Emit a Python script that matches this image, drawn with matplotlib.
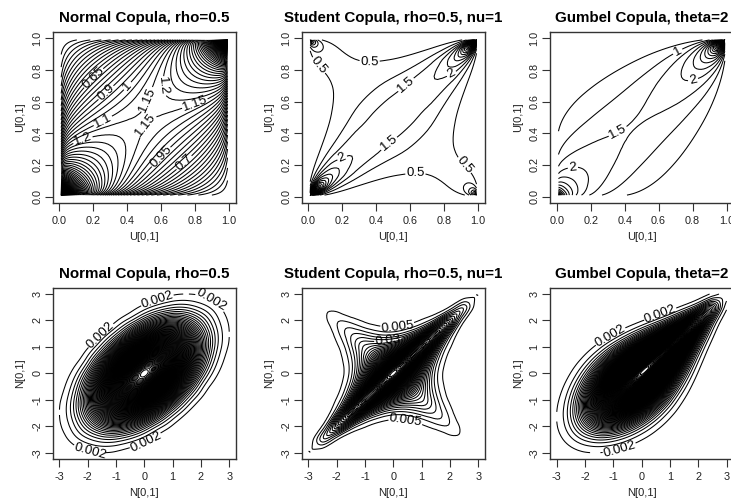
import numpy as np
import matplotlib
matplotlib.use('Agg')
import matplotlib.pyplot as plt
import matplotlib.tri as mtri

plt.rcParams['font.family'] = ['Liberation Sans', 'DejaVu Sans']

# grid positions, heights below are estimates on these grids (upper triangle only, surfaces are symmetric)
u_grid = [0.01, 0.03, 0.07, 0.15, 0.3, 0.5, 0.7, 0.85, 0.93, 0.97, 0.99]
n_grid = [-3, -2.5, -2, -1.5, -1, -0.5, 0, 0.5, 1, 1.5, 2, 2.5, 3]

normal_u = [
    [7.01, 4.80, 3.215, 1.954, 1.009, .469, .199, .0787, .033, .0141, .00516],
    [3.755, 2.835, 1.963, 1.18, .64, .317, .146, .07, .0336, .0141],
    [2.387, 1.86, 1.285, .803, .458, .2424, .131, .07, .033],
    [1.651, 1.324, .965, .642, .395, .2424, .146, .0787],
    [1.265, 1.103, .877, .642, .458, .317, .199],
    [1.155, 1.103, .965, .803, .64, .469],
    [1.265, 1.324, 1.285, 1.18, 1.009],
    [1.651, 1.86, 1.963, 1.954],
    [2.387, 2.835, 3.215],
    [3.755, 4.80],
    [7.01],
]
student_u = [
    [37.5, 6.09, .944, .196, .0585, .037, .0547, .163, .6225, 2.41, 7.23],
    [12.56, 3.546, .69, .1877, .1112, .153, .401, 1.158, 2.433, 2.41],
    [5.5, 1.905, .493, .2615, .3115, .623, 1.098, 1.158, .6225],
    [2.81, 1.225, .579, .52, .642, .623, .401, .163],
    [1.904, 1.246, .772, .52, .3115, .153, .0547],
    [1.814, 1.246, .579, .2615, .1112, .037],
    [1.904, 1.225, .493, .1877, .0585],
    [2.81, 1.905, .69, .196],
    [5.5, 3.546, .944],
    [12.56, 6.09],
    [37.5],
]
gumbel_u = [
    [8.56, 5.77, 3.60, 1.94, .845, .34, .132, .05, .0206, .0083, .0027],
    [4.69, 3.46, 2.16, 1.06, .455, .181, .0695, .0285, .0115, .0037],
    [3.00, 2.24, 1.295, .609, .2526, .098, .0404, .0163, .0053],
    [2.09, 1.535, .853, .382, .152, .0627, .0253, .0082],
    [1.60, 1.235, .664, .281, .118, .0476, .0154],
    [1.515, 1.214, .616, .27, .11, .0356],
    [1.834, 1.524, .783, .332, .108],
    [2.93, 2.61, 1.314, .444],
    [5.6, 5.02, 2.0],
    [12.3, 9.66],
    [35.9],
]
normal_n = [
    [.0005, .0010, .0017, .0020, .0017, .0010, .0005, .0002, .0001, 0, 0, 0, 0],
    [.0029, .0055, .0077, .0077, .0055, .0029, .0010, .0003, .0001, 0, 0, 0],
    [.0128, .0210, .0249, .0210, .0128, .0055, .0017, .0004, .0001, 0, 0],
    [.0410, .0572, .0572, .0410, .0210, .0077, .0020, .0004, .0001, 0],
    [.0944, .1115, .0944, .0572, .0249, .0077, .0017, .0003, .0001],
    [.1556, .1556, .1115, .0572, .0210, .0055, .0010, .0002],
    [.1838, .1556, .0944, .0410, .0128, .0029, .0005],
    [.1556, .1115, .0572, .0210, .0055, .0010],
    [.0944, .0572, .0249, .0077, .0017],
    [.0410, .0210, .0077, .0020],
    [.0128, .0055, .0017],
    [.0029, .0010],
    [.0005],
]
student_n = [
    [.0055, .0014, .0003, .0001, 0, 0, 0, 0, 0, .0001, .0002, .0007, .0011],
    [.0185, .0059, .0013, .0005, .0002, .0002, .0002, .0004, .0010, .0027, .0036, .0007],
    [.0480, .0196, .0058, .0025, .0018, .0022, .0039, .0077, .0093, .0027, .0002],
    [.0957, .0512, .0205, .0130, .0134, .0182, .0191, .0077, .0010, .0001],
    [.1578, .1060, .0593, .0456, .0369, .0182, .0039, .0004, 0],
    [.2343, .1804, .0993, .0456, .0134, .0022, .0002, 0],
    [.2886, .1804, .0593, .0130, .0018, .0002, 0],
    [.2343, .1060, .0205, .0025, .0002, 0],
    [.1578, .0512, .0058, .0005, 0],
    [.0957, .0196, .0013, .0001],
    [.0480, .0059, .0003],
    [.0185, .0014],
    [.0055],
]
gumbel_n = [
    [.00052, .0012, .00187, .00201, .00156, .0009, .00041, .00014, .00004, 0, 0, 0, 0],
    [.00344, .00659, .00843, .00735, .00458, .00213, .00076, .0002, .00004, 0, 0, 0],
    [.01586, .02525, .0262, .0183, .00903, .0033, .00089, .00017, .00002, 0, 0],
    [.0517, .068, .0567, .0309, .01175, .00322, .00063, .00008, .00001, 0],
    [.1191, .1296, .0847, .0351, .0099, .00194, .00026, .00002, 0],
    [.1976, .1763, .0875, .0264, .00528, .0007, .00006, 0],
    [.241, .1748, .0634, .01326, .00178, .00015, .00001],
    [.2244, .1293, .0322, .00448, .00039, .00002],
    [.1648, .0727, .01176, .00104, .00006],
    [.0981, .03147, .00314, .00017],
    [.0469, .0103, .00062],
    [.01763, .00255],
    [.00513],
]

titles = ['Normal Copula, rho=0.5', 'Student Copula, rho=0.5, nu=1', 'Gumbel Copula, theta=2']
u_ticks = [0, 0.2, 0.4, 0.6, 0.8, 1]
u_ticklabels = ['0.0', '0.2', '0.4', '0.6', '0.8', '1.0']
n_ticks = [-3, -2, -1, 0, 1, 2, 3]
n_ticklabels = ['-3', '-2', '-1', '0', '1', '2', '3']

# contour spacing of each panel and the levels that carry a label
top_surfaces = [normal_u, student_u, gumbel_u]
top_steps = [0.05, 0.5, 0.5]
top_label_levels = [[0.65, 0.7, 0.9, 0.95, 1, 1.1, 1.15, 1.2], [0.5, 1.5, 2], [1, 1.5, 2]]
bottom_surfaces = [normal_n, student_n, gumbel_n]
bottom_steps = [0.002, 0.005, 0.002]
bottom_label_levels = [[0.002], [0.005, 0.03], [0.002]]

top_labels = [
    [(.20, .75), (.28, .65), (.40, .70), (.50, .62), (.26, .47), (.14, .35), (.66, .70),
     (.50, .46), (.80, .58), (.60, .25), (.73, .22)],
    [(.36, .87), (.05, .82), (.63, .12), (.92, .20), (.58, .70), (.45, .37), (.20, .24), (.84, .78)],
    [(.72, .90), (.36, .41), (.80, .75), (.10, .15)],
]
bottom_labels = [
    [(.5, 2.6), (-1.8, -2.4), (0.1, -2.7), (2.2, 2.4), (-1.6, 1.5)],
    [(0.1, 2.0), (0.4, -2.0), (-0.2, 1.3)],
    [(0.7, 2.1), (-0.8, -2.8), (-1.0, 1.2)],
]

lefts = [52.7, 301.7, 550]
W, H = 731, 499


def mirror(rows):
    n = len(rows)
    z = np.zeros((n, n))
    for i, row in enumerate(rows):
        z[i, i:] = row
        z[i:, i] = row
    return z


def cell_triangles(n):
    # every grid cell cut along the y=x direction, that is where the ridges run
    out = []
    for r in range(n - 1):
        for c in range(n - 1):
            a = r * n + c
            out.append([a, a + 1, a + n + 1])
            out.append([a, a + n + 1, a + n])
    return out


def draw(ax, grid, rows, step, label_levels, label_pos, logit=False):
    z = mirror(rows)
    g = np.array(grid, dtype=float)
    if logit:
        g = np.log(g / (1 - g))  # near even spacing for the corner-packed u grid
    X, Y = np.meshgrid(g, g)
    tri = mtri.Triangulation(X.ravel(), Y.ravel(), cell_triangles(len(g)))
    # let matplotlib's refiner round off the contours, works on the log since the surfaces are peaked
    fine, log_z = mtri.UniformTriRefiner(tri).refine_field(np.log(z.ravel() + 1e-5), subdiv=3)
    if logit:
        fine = mtri.Triangulation(1 / (1 + np.exp(-fine.x)), 1 / (1 + np.exp(-fine.y)), fine.triangles)
    z_fine = np.exp(log_z)
    levels = np.round(np.arange(step, z.max(), step), 4)
    plain = levels[~np.isin(levels, np.round(label_levels, 4))]
    ax.tricontour(fine, z_fine, levels=plain, colors='black', linewidths=0.75)
    # labelled levels go in their own contour set, clabel with manual needs that
    cs = ax.tricontour(fine, z_fine, levels=label_levels, colors='black', linewidths=0.75)
    ax.clabel(cs, manual=label_pos, fmt='%g', fontsize=9.5, inline_spacing=2)


def style(ax, ticks, ticklabels, lim, name):
    ax.set_xlim(lim)
    ax.set_ylim(lim)
    ax.set_xticks(ticks, ticklabels)
    ax.set_yticks(ticks, ticklabels)
    ax.tick_params(axis='both', length=5.5, width=0.8, color='#333333', labelsize=7.8,
                   labelcolor='#222222', pad=4)
    ax.tick_params(axis='y', pad=2)
    plt.setp(ax.get_yticklabels(), rotation=90, va='center')
    ax.set_xlabel(name, fontsize=8, color='#222222', labelpad=4)
    ax.set_ylabel(name, fontsize=8, color='#222222', labelpad=5)
    for s in ax.spines.values():
        s.set_linewidth(1.0)
        s.set_color('#333333')


fig = plt.figure(figsize=(W / 100, H / 100), dpi=100)

for i in range(3):
    # top row
    ax = fig.add_axes([lefts[i] / W, (H - 203) / H, 183.3 / W, 171 / H])
    draw(ax, u_grid, top_surfaces[i], top_steps[i], top_label_levels[i], top_labels[i], logit=True)
    style(ax, u_ticks, u_ticklabels, (-0.04, 1.04), 'U[0,1]')
    ax.set_title(titles[i], fontsize=10.9, fontweight='bold', pad=7)

    # bottom row
    ax = fig.add_axes([lefts[i] / W, (H - 459) / H, 183.3 / W, 171.3 / H])
    draw(ax, n_grid, bottom_surfaces[i], bottom_steps[i], bottom_label_levels[i], bottom_labels[i])
    style(ax, n_ticks, n_ticklabels, (-3.24, 3.24), 'N[0,1]')
    ax.set_title(titles[i], fontsize=10.9, fontweight='bold', pad=7)

fig.savefig('out.png', dpi=100)
